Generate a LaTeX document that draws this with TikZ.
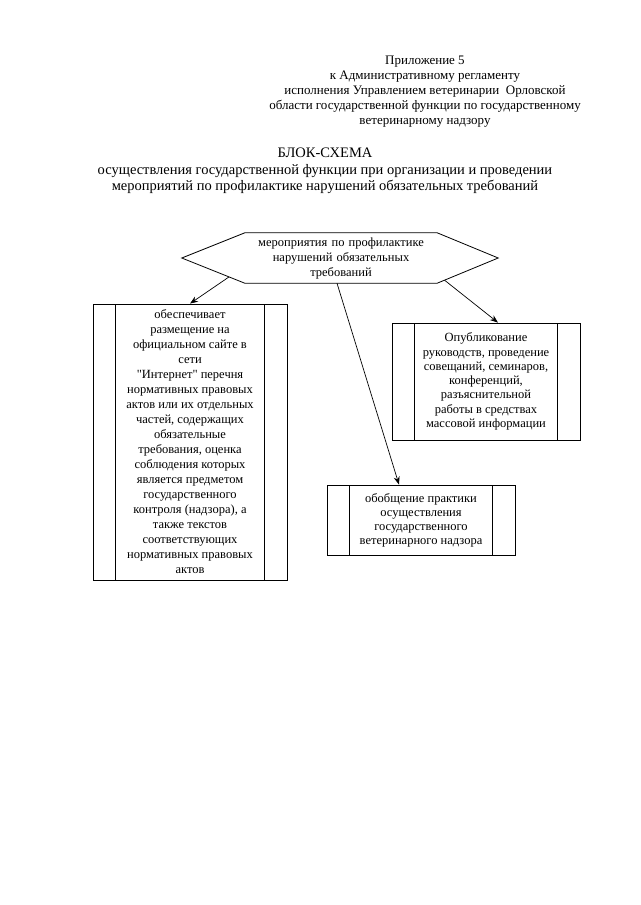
\documentclass[tikz,border=0pt]{standalone}
\usepackage{fontspec}
\setmainfont{Liberation Serif}[Ligatures=TeXOff]
\usetikzlibrary{arrows.meta, calc}

\begin{document}
\begin{tikzpicture}[x=1pt, y=-1pt,
  txt/.style={align=center, font=\fontsize{13}{15}\selectfont, inner sep=0pt},
  titletxt/.style={align=center, font=\fontsize{14.5}{16.5}\selectfont, inner sep=0pt},
  hexbox/.style={txt, font=\fontsize{12.5}{15}\selectfont, text width=190pt, minimum width=192pt, minimum height=50pt},
  blockbox/.style={draw, line width=0.8pt, align=center, inner sep=0pt,
    font=\fontsize{12.5}{15}\selectfont,
    path picture={
      \draw[line width=0.8pt] ([xshift=22.5pt]path picture bounding box.north west) -- ([xshift=22.5pt]path picture bounding box.south west);
      \draw[line width=0.8pt] ([xshift=-22.5pt]path picture bounding box.north east) -- ([xshift=-22.5pt]path picture bounding box.south east);
    }},
  arrow/.style={-{Stealth[length=8pt, width=6pt]}, line width=0.7pt}
]
\useasboundingbox (0,0) rectangle (640,905);

% Header
\node[txt] (prilozh) at (425, 92) {Приложение 5\\к Административному регламенту\\исполнения Управлением ветеринарии\ \ Орловской\\области государственной функции по государственному\\ветеринарному надзору};

\node[titletxt] (title) at (325, 171) {БЛОК-СХЕМА\\осуществления государственной функции при организации и проведении\\мероприятий по профилактике нарушений обязательных требований};

% Hexagon
\node[hexbox] (prof) at (341, 258) {мероприятия по профилактике\\нарушений обязательных\\требований};
\coordinate (profW) at ([xshift=-63pt]prof.west);
\coordinate (profE) at ([xshift=61pt]prof.east);
\draw[line width=0.8pt] (prof.north west) -- (prof.north east) -- (profE) -- (prof.south east) -- (prof.south west) -- (profW) -- cycle;

% Boxes
\node[blockbox, minimum width=194pt, minimum height=276pt] (obesp) at (190, 442) {обеспечивает\\размещение на\\официальном сайте в\\сети\\"Интернет" перечня\\нормативных правовых\\актов или их отдельных\\частей, содержащих\\обязательные\\требования, оценка\\соблюдения которых\\является предметом\\государственного\\контроля (надзора), а\\также текстов\\соответствующих\\нормативных правовых\\актов};

\node[blockbox, minimum width=188pt, minimum height=117pt, font=\fontsize{12.5}{14.3}\selectfont] (opubl) at (486, 381.5) {Опубликование\\руководств, проведение\\совещаний, семинаров,\\конференций,\\разъяснительной\\работы в средствах\\массовой информации};

\node[blockbox, minimum width=188pt, minimum height=70pt, font=\fontsize{12.5}{14}\selectfont] (obob) at (421, 520) {обобщение практики\\осуществления\\государственного\\ветеринарного надзора};

% Arrows
\draw[arrow] ($(prof.south west)!0.25!(profW)$) -- (obesp.north);
\draw[arrow] ([xshift=-4pt]prof.south) -- ([xshift=-22pt]obob.north);
\draw[arrow] ($(prof.south east)!0.12!(profE)$) -- ([xshift=12pt]opubl.north);

\end{tikzpicture}
\end{document}
